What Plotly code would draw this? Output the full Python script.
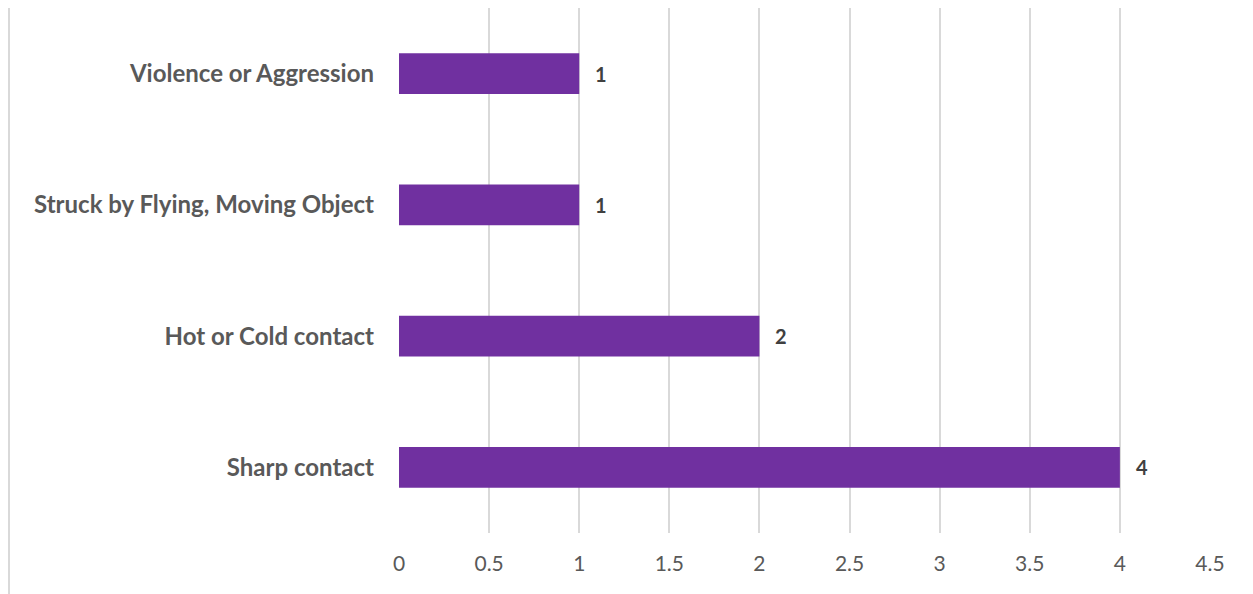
import plotly.graph_objects as go

categories = ["Sharp contact", "Hot or Cold contact", "Struck by Flying, Moving Object", "Violence or Aggression"]
values = [4, 2, 1, 1]
x_ticks = [0, 0.5, 1, 1.5, 2, 2.5, 3, 3.5, 4, 4.5]
x_tick_labels = ["0", "0.5", "1", "1.5", "2", "2.5", "3", "3.5", "4", "4.5"]

FONT = "Lato, 'Open Sans', sans-serif"

fig = go.Figure()
fig.add_trace(go.Bar(
    y=categories, x=values, orientation="h",
    marker=dict(color="#7030A0", line=dict(width=0)),
    width=0.31,
    hoverinfo="x+y",
))

for c, v in zip(categories, values):
    fig.add_annotation(x=v, y=c, text=f"<b>{v}</b>", showarrow=False,
                       xanchor="left", xshift=14,
                       font=dict(family=FONT, size=20, color="#404040"))

fig.add_shape(type="line", xref="paper", yref="paper",
              x0=-0.4809, x1=-0.4809, y0=-0.12, y1=1.02,
              line=dict(color="#D9D9D9", width=2))

fig.update_layout(
    width=1245, height=586,
    margin=dict(l=391, r=43, t=0, b=61),
    paper_bgcolor="white", plot_bgcolor="white",
    showlegend=False,
    font=dict(family=FONT, color="#595959"),
    xaxis=dict(range=[0, 4.5], tickvals=x_ticks, ticktext=x_tick_labels,
               showgrid=True, gridcolor="#D9D9D9", gridwidth=1.5,
               zeroline=False, showline=False, ticks="",
               ticklabelstandoff=16,
               tickfont=dict(family=FONT, size=21, color="#595959")),
    yaxis=dict(categoryorder="array", categoryarray=categories,
               range=[-0.5, 3.5], showgrid=False, zeroline=False,
               showline=False, ticks="", ticklabelstandoff=24,
               tickfont=dict(family=FONT, size=24, color="#595959", weight="bold")),
)

fig.write_html("out.html")
